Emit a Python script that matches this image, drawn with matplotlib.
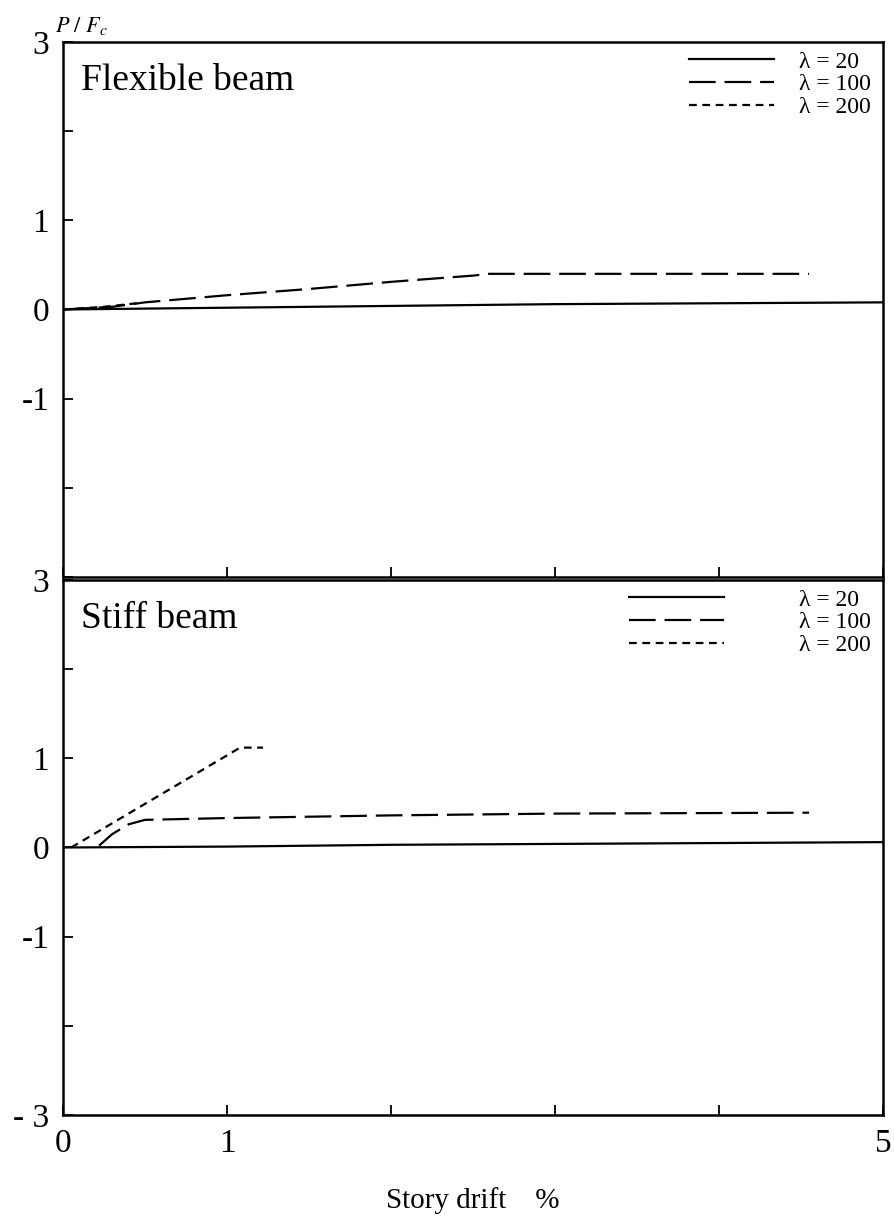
import matplotlib
matplotlib.use("Agg")
import matplotlib.pyplot as plt

plt.rcParams['font.family'] = ['Liberation Serif', 'DejaVu Serif']
plt.rcParams['mathtext.fontset'] = 'stix'

# Flexible beam (top panel)
flex_x_20 = [0.0, 1.0, 2.0, 3.0, 4.0, 5.0]
flex_y_20 = [0.0, 0.02, 0.04, 0.06, 0.07, 0.08]
flex_x_100 = [0.0, 0.3, 0.5, 1.0, 1.5, 2.0, 2.5, 2.6, 4.55]
flex_y_100 = [0.0, 0.03, 0.08, 0.16, 0.23, 0.31, 0.38, 0.40, 0.40]
flex_x_200 = [0.0, 0.25, 0.45]
flex_y_200 = [0.0, 0.03, 0.07]

# Stiff beam (bottom panel)
stiff_x_20 = [0.0, 1.0, 2.0, 3.0, 4.0, 5.0]
stiff_y_20 = [0.0, 0.01, 0.03, 0.04, 0.05, 0.06]
stiff_x_100 = [0.22, 0.3, 0.4, 0.5, 1.0, 2.0, 3.0, 4.55]
stiff_y_100 = [0.02, 0.15, 0.26, 0.31, 0.33, 0.36, 0.38, 0.39]
stiff_x_200 = [0.05, 1.08, 1.22]
stiff_y_200 = [0.0, 1.12, 1.12]

legend_labels = ["λ = 20", "λ = 100", "λ = 200"]

fig = plt.figure(figsize=(8.95, 12.18), dpi=100)
ax1 = fig.add_axes([0.0704, 0.5263, 0.916, 0.4392])
ax2 = fig.add_axes([0.0704, 0.0846, 0.916, 0.4392])

styles = [dict(linestyle='-'), dict(dashes=(12, 4)), dict(dashes=(3.5, 2.5))]


def dibujar(ax, datos, titulo, largo, separacion):
    lineas = []
    for (xs, ys), st, lab in zip(datos, styles, legend_labels):
        l, = ax.plot(xs, ys, color='black', lw=1.6, label=lab, **st)
        lineas.append(l)
    ax.set_xlim(0, 5)
    ax.set_ylim(-3, 3)
    ax.set_xticks([0, 1, 2, 3, 4, 5])
    ax.set_yticks([-3, -2, -1, 0, 1, 2, 3])
    ax.tick_params(direction='in', length=7, width=1.3, labelsize=24, pad=10)
    for s in ax.spines.values():
        s.set_linewidth(1.8)
    ax.text(0.022, 0.96, titulo, transform=ax.transAxes, fontsize=27,
            va='top', ha='left')
    ax.legend(handles=lineas, loc='upper right', frameon=False, fontsize=17,
              handlelength=largo, handletextpad=separacion, labelspacing=0.05,
              borderaxespad=0.1, bbox_to_anchor=(1.0, 1.005))


dibujar(ax1, [(flex_x_20, flex_y_20), (flex_x_100, flex_y_100),
              (flex_x_200, flex_y_200)], "Flexible beam", 3.6, 1.05)
dibujar(ax2, [(stiff_x_20, stiff_y_20), (stiff_x_100, stiff_y_100),
              (stiff_x_200, stiff_y_200)], "Stiff beam", 4.0, 3.2)

ax1.set_xticklabels([])
ax1.set_yticklabels(["", "", "-1", "0", "1", "", "3"])
ax2.set_yticklabels(["- 3", "", "-1", "0", "1", "", "3"])
ax2.set_xticklabels(["0", "1", "", "", "", "5"])
ax2.set_xlabel("Story drift    %", fontsize=21, labelpad=20)

fig.text(0.062, 0.979, r"$P\ /\ F_c$", fontsize=16, ha='left', va='center')

fig.savefig("out.png", dpi=100)
